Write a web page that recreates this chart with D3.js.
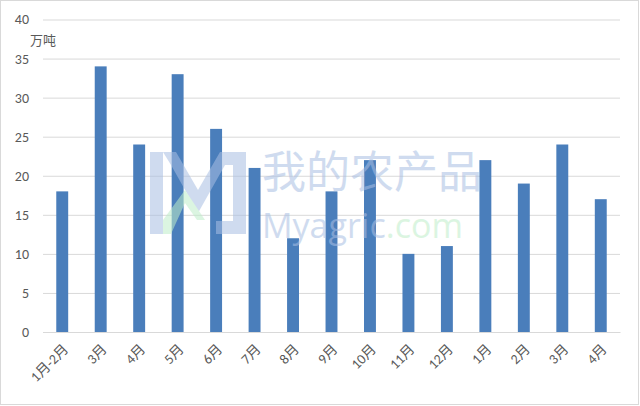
<!DOCTYPE html>
<html><head><meta charset="utf-8">
<script src="https://cdn.jsdelivr.net/npm/d3@7"></script>
<style>body{margin:0;background:#fff}svg{display:block}text{font-family:Calibri,"Liberation Sans","Noto Sans CJK SC",sans-serif}</style>
</head><body><svg id="c" width="640" height="406"></svg>
<script>
const categories = ["1月-2月","3月","4月","5月","6月","7月","8月","9月","10月","11月","12月","1月","2月","3月","4月"];
const values = [18,34,24,33,26,21,12,18,22,10,11,22,19,24,17];
const yTicks = [0,5,10,15,20,25,30,35,40];
const unitLabel = "万吨";

const svg = d3.select("#c");
svg.append("rect").attr("x",0.5).attr("y",0.5).attr("width",638).attr("height",404)
  .attr("fill","#fff").attr("stroke","#d9d9d9");
const m = {l:43,r:620,t:19.5,b:332};
const idx = categories.map((c,i)=>i);
const x = d3.scaleBand().domain(idx).range([m.l,m.r]).paddingInner(0.69).paddingOuter(0.345);
const y = d3.scaleLinear().domain([0,40]).range([m.b,m.t]);

const yAxis = svg.append("g").attr("transform",`translate(${m.l},0)`)
  .call(d3.axisLeft(y).tickValues(yTicks).tickSize(-(m.r-m.l)).tickPadding(14));
yAxis.select(".domain").remove();
yAxis.selectAll(".tick line").attr("stroke","#d9d9d9");
yAxis.selectAll(".tick text").attr("fill","#595959").style("font-size","14px");

svg.append("g").selectAll("rect").data(values).join("rect")
  .attr("x",(d,i)=>x(i)).attr("width",x.bandwidth())
  .attr("y",d=>y(d)).attr("height",d=>y(0)-y(d)).attr("fill","#4a7ebb");

const xAxis = svg.append("g").attr("transform",`translate(0,${m.b})`)
  .call(d3.axisBottom(x).tickSize(0).tickPadding(0).tickFormat(i=>categories[i]));
xAxis.select(".domain").attr("stroke","#d9d9d9");
xAxis.selectAll(".tick text").attr("fill","#595959").style("font-size","14px")
  .attr("text-anchor","end").attr("dy",0)
  .attr("transform","translate(7,18) rotate(-45)");

svg.append("text").attr("x",30).attr("y",45).attr("fill","#595959").style("font-size","13px").text(unitLabel);

// watermark
const wm = svg.append("g").attr("opacity",0.55);
const lb = "#a9bfe3", lg = "#bfeec9";
wm.append("path").attr("fill",lb).attr("d","M150,152 h13 v82 h-13 z");
wm.append("path").attr("fill",lb).attr("d","M163,152 h13 l22,38 l22,-38 h26 v82 h-30 v-13 h17 v-56 h-8 l-27,48 l-27,-48 z");
wm.append("path").attr("fill",lg).attr("d","M163,234 l0,-14 l22,-30 l20,30 l-8,0 l-12,-17 l-14,31 z");
wm.append("text").attr("x",262).attr("y",188).attr("fill",lb).style("font-size","44px").style("font-family","'Noto Sans CJK SC'").text("我的农产品");
const t2 = wm.append("text").attr("x",262).attr("y",238).attr("fill",lb).style("font-size","34px").style("font-family","'Open Sans'");
t2.append("tspan").text("Myagric");
t2.append("tspan").attr("fill",lg).text(".com");
</script></body></html>
